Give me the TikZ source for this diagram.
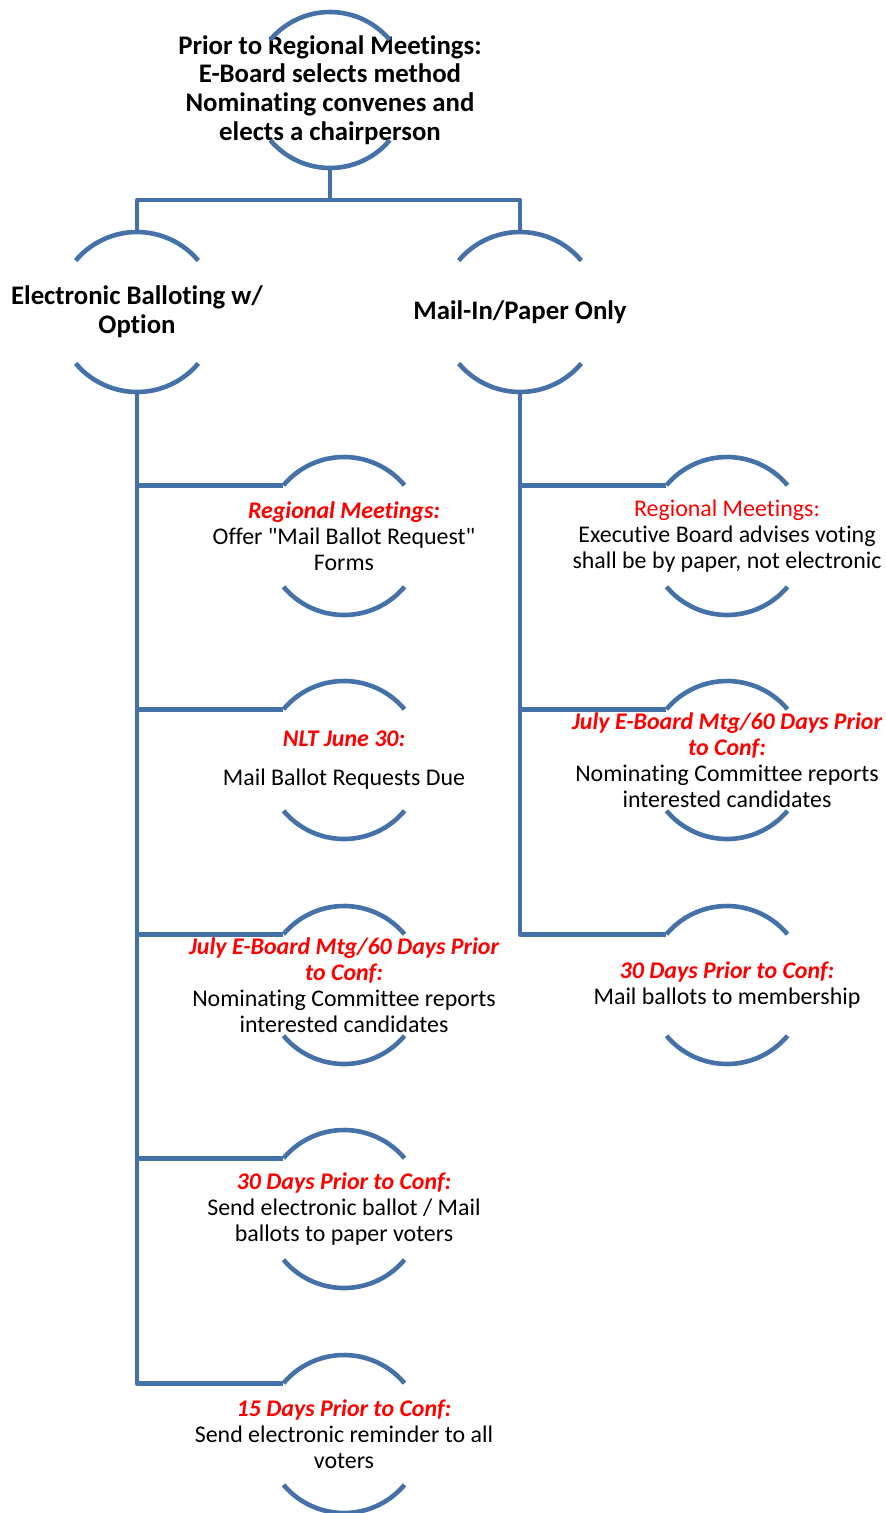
\documentclass[tikz,border=0pt]{standalone}
\usepackage{fontspec}
\setmainfont{Carlito}[Ligatures={NoCommon,TeXOff}]
\usepackage{tikz}
\usetikzlibrary{positioning,calc}
\definecolor{ringblue}{RGB}{68,114,168}
\definecolor{duered}{RGB}{255,0,0}
\tikzset{
  ln/.style={draw=ringblue,line width=4.6pt,line join=round},
  ring/.style={circle,minimum size=158pt,inner sep=0pt,outer sep=0pt},
  txt/.style={align=center,font=\fontsize{23.9}{26.2}\selectfont,inner sep=0pt},
  head/.style={align=center,font=\fontsize{26.8}{28.7}\selectfont\bfseries,inner sep=0pt}
}
\newcommand{\due}[1]{\textcolor{duered}{\bfseries\itshape #1}}
\newcommand{\ringarcs}[2]{\draw[ln] (#1.40) arc[start angle=40,end angle=140,radius=#2];
 \draw[ln] (#1.220) arc[start angle=220,end angle=320,radius=#2];}
\begin{document}
\begin{tikzpicture}[x=1pt,y=-1pt]
\useasboundingbox (0,0) rectangle (886,1513);
% top level
\node[ring,minimum size=156pt] (top) at (330,90) {};
\node[head] at (top) {Prior to Regional Meetings:\\E-Board selects method\\Nominating convenes and\\elects a chairperson};
% the two methods
\node[ring,minimum size=160pt] (elec) at (137,312) {};
\node[head] at (elec) {Electronic Balloting w/\\Option};
\node[ring,minimum size=160pt] (mail) at (520,312) {};
\node[head] at (mail) {Mail-In/Paper Only};
% electronic column
\node[ring] (e1) at (344,536) {};
\node[txt] at (e1) {\due{Regional Meetings:}\\Offer "Mail Ballot Request"\\Forms};
\node[ring] (e2) at (344,760) {};
\node[txt] at (e2) {\due{NLT June 30:}\\[12pt]Mail Ballot Requests Due};
\node[ring] (e3) at (344,985) {};
\node[txt] at (e3) {\due{July E-Board Mtg/60 Days Prior}\\\due{to Conf:}\\Nominating Committee reports\\interested candidates};
\node[ring] (e4) at (344,1209) {};
\node[txt] at (e4) {\due{30 Days Prior to Conf:}\\Send electronic ballot / Mail\\ballots to paper voters};
\node[ring] (e5) at (344,1434) {};
\node[txt] at (e5) {\due{15 Days Prior to Conf:}\\Send electronic reminder to all\\voters};
% mail-in column
\node[ring] (m1) at (727,536) {};
\node[txt] at (m1) {\textcolor{duered}{Regional Meetings:}\\Executive Board advises voting\\shall be by paper, not electronic};
\node[ring] (m2) at (727,760) {};
\node[txt] at (m2) {\due{July E-Board Mtg/60 Days Prior}\\\due{to Conf:}\\Nominating Committee reports\\interested candidates};
\node[ring] (m3) at (727,985) {};
\node[txt] at (m3) {\due{30 Days Prior to Conf:}\\Mail ballots to membership};
\ringarcs{top}{78pt}
\ringarcs{elec}{80pt}
\ringarcs{mail}{80pt}
\foreach \n in {e1,e2,e3,e4,e5,m1,m2,m3} {\ringarcs{\n}{79pt}}
% connectors
\coordinate (bar) at (330,200);
\draw[ln] (top.south) -- (bar);
\draw[ln] (elec.north) |- (bar) -| (mail.north);
\foreach \n in {e1,e2,e3,e4,e5} \draw[ln] (elec.south) |- (\n.140);
\foreach \n in {m1,m2,m3} \draw[ln] (mail.south) |- (\n.140);
\end{tikzpicture}
\end{document}
